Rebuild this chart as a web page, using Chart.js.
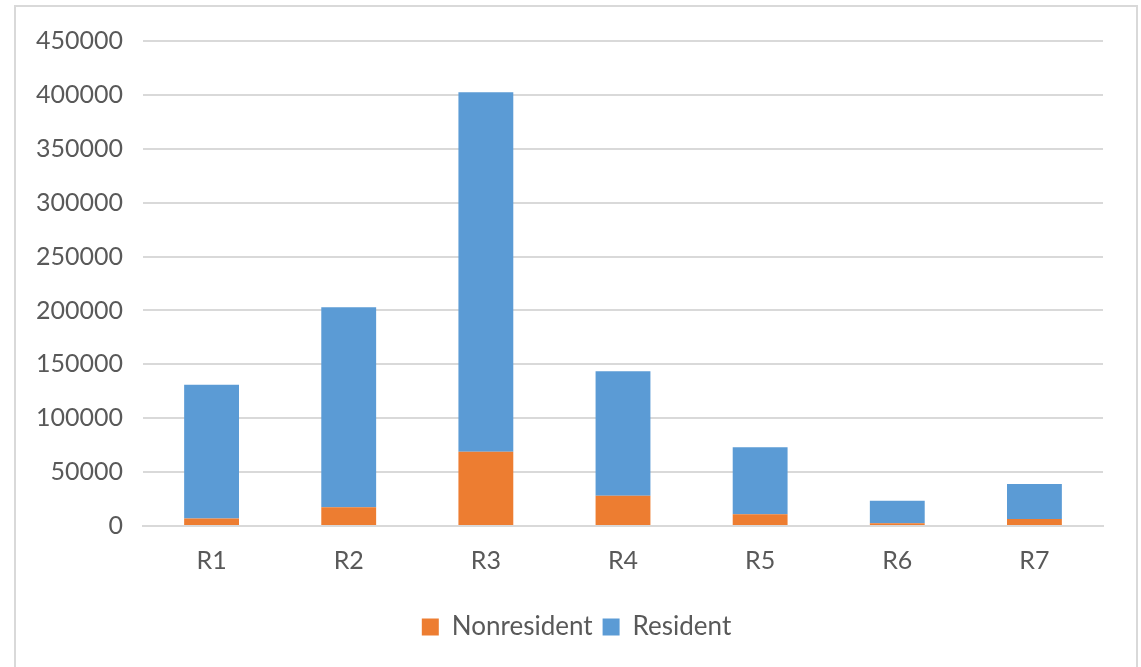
<!DOCTYPE html>
<html>
<head>
<meta charset="utf-8">
<title>Nonresident and Resident by region</title>
<script src="https://cdn.jsdelivr.net/npm/chart.js@4"></script>
<style>
  html, body { margin: 0; padding: 0; background: #ffffff; }
  #wrap { position: relative; width: 1141px; height: 667px; }
  canvas { display: block; }
</style>
</head>
<body>
<div id="wrap"><canvas id="chart" width="1141" height="667"></canvas></div>
<script>
// Regions along the category axis
const categories = ['R1', 'R2', 'R3', 'R4', 'R5', 'R6', 'R7'];

// Stacked series values
const nonresident = [7000, 17500, 69000, 28000, 11000, 2500, 6500];
const resident = [124000, 185500, 333500, 115500, 62000, 21000, 32500];

// Value axis range and step
const yMin = 0;
const yMax = 450000;
const yStep = 50000;

const textColor = '#595959';
const gridColor = '#D9D9D9';
const fontFamily = 'Lato, "Open Sans", "Noto Sans", sans-serif';

// Light frame around the whole chart
const framePlugin = {
  id: 'frame',
  beforeDraw(chart) {
    const ctx = chart.ctx;
    ctx.save();
    ctx.fillStyle = '#ffffff';
    ctx.fillRect(0, 0, chart.width, chart.height);
    ctx.strokeStyle = gridColor;
    ctx.lineWidth = 2;
    ctx.strokeRect(15, 6, 1122, chart.height + 10);
    ctx.restore();
  }
};

// Centre the legend under the framed area rather than the padded box
const legendShift = {
  id: 'legendShift',
  afterLayout(chart) {
    const lg = chart.legend;
    if (!lg) return;
    lg.left += 15;
    lg.right += 15;
    lg.top += 3;
    lg.bottom += 3;
  }
};

new Chart(document.getElementById('chart'), {
  type: 'bar',
  data: {
    labels: categories,
    datasets: [
      {
        label: 'Nonresident',
        data: nonresident,
        backgroundColor: '#ED7D31',
        borderWidth: 0,
        barPercentage: 0.4,
        categoryPercentage: 1.0
      },
      {
        label: 'Resident',
        data: resident,
        backgroundColor: '#5B9BD5',
        borderWidth: 0,
        barPercentage: 0.4,
        categoryPercentage: 1.0
      }
    ]
  },
  options: {
    responsive: false,
    animation: false,
    layout: {
      padding: { left: 20, right: 38, top: 41, bottom: 20 }
    },
    plugins: {
      legend: {
        display: true,
        position: 'bottom',
        labels: {
          color: textColor,
          font: { family: fontFamily, size: 26 },
          boxWidth: 17,
          boxHeight: 17,
          padding: 10
        }
      },
      tooltip: { enabled: false }
    },
    scales: {
      x: {
        stacked: true,
        grid: { display: false, drawTicks: false },
        border: { display: true, color: gridColor, width: 2 },
        ticks: {
          color: textColor,
          font: { family: fontFamily, size: 25 },
          padding: 20
        },
        afterFit(scale) { scale.height += 5; }
      },
      y: {
        stacked: true,
        min: yMin,
        max: yMax,
        grid: { color: gridColor, lineWidth: 2, drawTicks: false },
        border: { display: false },
        ticks: {
          stepSize: yStep,
          color: textColor,
          font: { family: fontFamily, size: 25 },
          padding: 20,
          callback: (v) => String(v)
        },
        afterFit(scale) { scale.width = 123; }
      }
    }
  },
  plugins: [framePlugin, legendShift]
});
</script>
</body>
</html>
